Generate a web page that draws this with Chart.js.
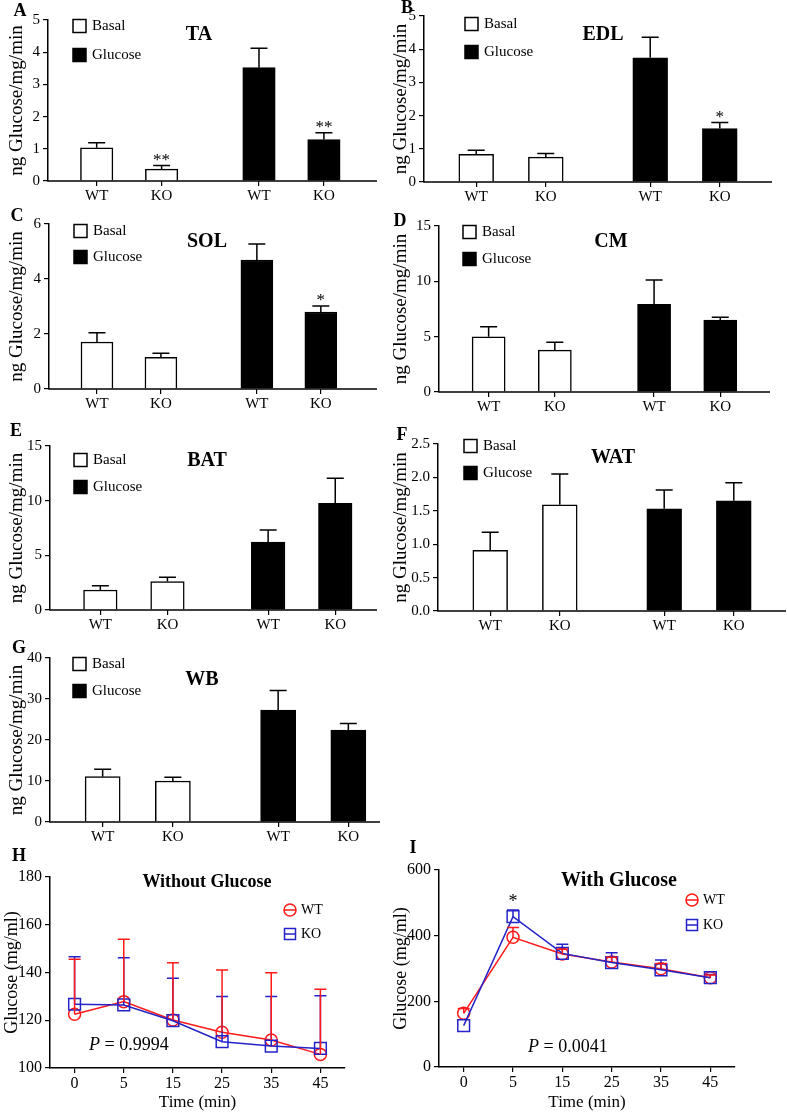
<!DOCTYPE html>
<html><head><meta charset="utf-8">
<script src="https://cdn.jsdelivr.net/npm/chart.js@4.4.1/dist/chart.umd.min.js"></script>
<style>
html,body{margin:0;padding:0;background:#fff;}
#wrap{position:relative;width:787px;height:1114px;overflow:hidden;background:#fff;}
canvas{position:absolute;}
</style></head>
<body><div id="wrap"></div>
<script>
// ---------------- DATA ----------------
const groups = ['WT', 'KO', 'WT', 'KO'];
const conditions = ['Basal', 'Glucose'];

const taBasal = [1.03, 0.37], taBasalErr = [0.16, 0.11];
const taGlucose = [3.52, 1.29], taGlucoseErr = [0.60, 0.21];
const taStars = ['', '**', '', '**'];
const taTicks = [0, 1, 2, 3, 4, 5];

const edlBasal = [0.83, 0.75], edlBasalErr = [0.13, 0.11];
const edlGlucose = [3.74, 1.61], edlGlucoseErr = [0.62, 0.18];
const edlStars = ['', '', '', '*'];
const edlTicks = [0, 1, 2, 3, 4, 5];

const solBasal = [1.71, 1.15], solBasalErr = [0.34, 0.15];
const solGlucose = [4.69, 2.80], solGlucoseErr = [0.58, 0.22];
const solStars = ['', '', '', '*'];
const solTicks = [0, 2, 4, 6];

const cmBasal = [4.99, 3.79], cmBasalErr = [0.91, 0.70];
const cmGlucose = [7.92, 6.50], cmGlucoseErr = [2.20, 0.25];
const cmStars = ['', '', '', ''];
const cmTicks = [0, 5, 10, 15];

const batBasal = [1.83, 2.60], batBasalErr = [0.39, 0.39];
const batGlucose = [6.21, 9.76], batGlucoseErr = [1.10, 2.29];
const batStars = ['', '', '', ''];
const batTicks = [0, 5, 10, 15];

const watBasal = [0.91, 1.59], watBasalErr = [0.27, 0.46];
const watGlucose = [1.53, 1.65], watGlucoseErr = [0.28, 0.27];
const watStars = ['', '', '', ''];
const watTicks = [0, 0.5, 1.0, 1.5, 2.0, 2.5];

const wbBasal = [11.05, 10.0], wbBasalErr = [1.8, 0.9];
const wbGlucose = [27.3, 22.4], wbGlucoseErr = [4.8, 1.6];
const wbStars = ['', '', '', ''];
const wbTicks = [0, 10, 20, 30, 40];

const timeLabels = ['0', '5', '15', '25', '35', '45'];
const seriesNames = ['WT', 'KO'];

const hWT = [122.5, 127.8, 120.1, 115.0, 111.7, 105.7];
const hWTErr = [23.0, 26.1, 24.0, 26.0, 28.2, 27.3];
const hKO = [126.7, 126.4, 119.8, 111.0, 109.2, 108.2];
const hKOErr = [19.9, 19.8, 17.8, 18.9, 20.7, 22.1];
const hTicks = [100, 120, 140, 160, 180];
const hStars = ['', '', '', '', '', ''];

const iWT = [163.5, 395, 344, 320, 299, 272];
const iWTErr = [15, 30, 15, 14, 16, 8];
const iKO = [126, 458, 346, 318, 296, 272];
const iKOErr = [0, 20, 28, 30, 30, 10];
const iTicks = [0, 200, 400, 600];
const iStars = ['', '*', '', '', '', ''];

// ---------------- STYLE / LAYOUT ----------------
const FONT = "'Liberation Serif','Times New Roman',serif";
const RED = 'rgb(255,25,25)';
const BLUE = 'rgb(35,35,200)';
const SLOTS = [1, 3, 6, 8];   // slot indices of the 4 groups on a 10-slot category axis
const NSLOT = 10;

const barPanels = [
  {letter:'A', name:'TA',  b:taBasal,  be:taBasalErr,  g:taGlucose,  ge:taGlucoseErr,  stars:taStars,  ticks:taTicks,  dec:0,
   cx:0,   cy:0,   cw:410, axisX:48,  topY:20,  axisY:181, slot:32.46, axisEnd:377, titleX:17.5, letterXY:[20,11],  nameXY:[199,35], legX:73,  legY:[26,55]},
  {letter:'B', name:'EDL', b:edlBasal, be:edlBasalErr, g:edlGlucose, ge:edlGlucoseErr, stars:edlStars, ticks:edlTicks, dec:0,
   cx:390, cy:0,   cw:397, axisX:424, topY:16,  axisY:182, slot:34.8,  axisEnd:772, titleX:399,  letterXY:[407,8],  nameXY:[603,35], legX:465, legY:[24,52]},
  {letter:'C', name:'SOL', b:solBasal, be:solBasalErr, g:solGlucose, ge:solGlucoseErr, stars:solStars, ticks:solTicks, dec:0,
   cx:0,   cy:205, cw:410, axisX:49,  topY:224, axisY:389, slot:31.98, axisEnd:377, titleX:17,   letterXY:[17,216], nameXY:[207,242], legX:74, legY:[231,257]},
  {letter:'D', name:'CM',  b:cmBasal,  be:cmBasalErr,  g:cmGlucose,  ge:cmGlucoseErr,  stars:cmStars,  ticks:cmTicks,  dec:0,
   cx:390, cy:205, cw:397, axisX:439, topY:226, axisY:392, slot:33.09, axisEnd:770, titleX:401,  letterXY:[400,221], nameXY:[611,242], legX:463, legY:[232,259]},
  {letter:'E', name:'BAT', b:batBasal, be:batBasalErr, g:batGlucose, ge:batGlucoseErr, stars:batStars, ticks:batTicks, dec:0,
   cx:0,   cy:418, cw:410, axisX:50,  topY:446, axisY:610, slot:33.56, axisEnd:377, titleX:17,   letterXY:[16,431], nameXY:[207,461], legX:74, legY:[460,487]},
  {letter:'F', name:'WAT', b:watBasal, be:watBasalErr, g:watGlucose, ge:watGlucoseErr, stars:watStars, ticks:watTicks, dec:1,
   cx:390, cy:418, cw:397, axisX:438, topY:444, axisY:611, slot:34.8,  axisEnd:786, titleX:400,  letterXY:[402,435], nameXY:[613,458], legX:464, legY:[446,473]},
  {letter:'G', name:'WB',  b:wbBasal,  be:wbBasalErr,  g:wbGlucose,  ge:wbGlucoseErr,  stars:wbStars,  ticks:wbTicks,  dec:0,
   cx:0,   cy:636, cw:410, axisX:50,  topY:658, axisY:822, slot:35.1,  axisEnd:380, titleX:17,   letterXY:[19,648], nameXY:[202,680], legX:73, legY:[664,691]}
];

const linePanels = [
  {letter:'H', title:'Without Glucose', titleSize:18, wt:hWT, wtE:hWTErr, ko:hKO, koE:hKOErr, ticks:hTicks, stars:hStars, p:'0.9994',
   cx:0, cy:840, cw:390, ch:274, axisX:50, topY:877, axisY:1068, right:345, titleX:12, xTitleY:1103,
   letterXY:[19,856], titleXY:[207,882], legX:290, legY:[910,934], pXY:[89,1045]},
  {letter:'I', title:'With Glucose', titleSize:20, wt:iWT, wtE:iWTErr, ko:iKO, koE:iKOErr, ticks:iTicks, stars:iStars, p:'0.0041',
   cx:390, cy:840, cw:397, ch:274, axisX:439, topY:870, axisY:1067, right:735, titleX:400, xTitleY:1103,
   letterXY:[413,848], titleXY:[619,881], legX:692, legY:[900,925], pXY:[528,1047]}
];

// ---------------- HELPERS ----------------
const wrap = document.getElementById('wrap');
function mkCanvas(x, y, w, h) {
  const c = document.createElement('canvas');
  c.width = w; c.height = h;
  c.style.left = x + 'px'; c.style.top = y + 'px';
  c.style.width = w + 'px'; c.style.height = h + 'px';
  wrap.appendChild(c);
  return c;
}
function txt(ctx, s, x, y, font, align, base, color) {
  ctx.save();
  ctx.font = font; ctx.textAlign = align || 'left'; ctx.textBaseline = base || 'middle';
  ctx.fillStyle = color || '#000';
  ctx.fillText(s, x, y);
  ctx.restore();
}
const errPlugin = {
  id: 'errbars',
  afterDatasetsDraw(chart) {
    const ctx = chart.ctx, ys = chart.scales.y;
    chart.data.datasets.forEach((ds, di) => {
      if (!ds.errs) return;
      const meta = chart.getDatasetMeta(di);
      meta.data.forEach((el, i) => {
        const v = ds.data[i], e = ds.errs[i];
        if (v == null || e == null || e <= 0) return;
        const x = el.x, y0 = ys.getPixelForValue(v), y1 = ys.getPixelForValue(v + e);
        const cap = ds.capWidth / 2;
        ctx.save();
        ctx.strokeStyle = ds.errColor; ctx.lineWidth = 1.5;
        ctx.beginPath();
        ctx.moveTo(x, y0); ctx.lineTo(x, y1);
        ctx.moveTo(x - cap, y1); ctx.lineTo(x + cap, y1);
        ctx.stroke();
        ctx.restore();
      });
    });
  }
};

// ---------------- BAR PANELS ----------------
const Y_TITLE = 19;
barPanels.forEach(p => {
  const ch = p.axisY - p.cy + 30;
  const cv = mkCanvas(p.cx, p.cy, p.cw, ch);
  const labels = Array(NSLOT).fill('');
  SLOTS.forEach((s, i) => labels[s] = groups[i]);
  const bData = Array(NSLOT).fill(null), bErr = Array(NSLOT).fill(null);
  const gData = Array(NSLOT).fill(null), gErr = Array(NSLOT).fill(null);
  const starAt = Array(NSLOT).fill('');
  [0, 1].forEach(i => { bData[SLOTS[i]] = p.b[i]; bErr[SLOTS[i]] = p.be[i]; });
  [0, 1].forEach(i => { gData[SLOTS[i + 2]] = p.g[i]; gErr[SLOTS[i + 2]] = p.ge[i]; });
  SLOTS.forEach((s, i) => starAt[s] = p.stars[i]);
  const lh = Y_TITLE * 1.2;
  const padLeft = Math.max(0, p.titleX - p.cx - lh / 2);
  const yW = p.axisX - p.cx - padLeft;
  const areaRight = p.axisX + NSLOT * p.slot;
  const padRight = Math.max(0, p.cx + p.cw - areaRight);
  const padTop = p.topY - p.cy;
  const xH = p.cy + ch - p.axisY;
  const ox = p.cx, oy = p.cy;

  const annot = {
    id: 'annot',
    afterDraw(chart) {
      const ctx = chart.ctx, xs = chart.scales.x, ys = chart.scales.y, a = chart.chartArea;
      // baseline
      ctx.save(); ctx.strokeStyle = '#000'; ctx.lineWidth = 1.5;
      ctx.beginPath(); ctx.moveTo(a.left - 0.75, a.bottom); ctx.lineTo(p.axisEnd - ox, a.bottom); ctx.stroke(); ctx.restore();
      // letter and title
      txt(ctx, p.letter, p.letterXY[0] - ox, p.letterXY[1] - oy, 'bold 18px ' + FONT, 'center', 'middle');
      txt(ctx, p.name, p.nameXY[0] - ox, p.nameXY[1] - oy, 'bold 20px ' + FONT, 'center', 'middle');
      // legend
      chart.data.datasets.forEach((ds, i) => {
        const bx = p.legX - ox, by = p.legY[i] - oy;
        ctx.save();
        ctx.fillStyle = ds.backgroundColor; ctx.strokeStyle = '#000'; ctx.lineWidth = 1.5;
        ctx.fillRect(bx, by - 6.5, 13, 13); ctx.strokeRect(bx, by - 6.5, 13, 13);
        ctx.restore();
        txt(ctx, ds.label, bx + 19, by, '15px ' + FONT, 'left', 'middle');
      });
      // stars
      starAt.forEach((s, i) => {
        if (!s) return;
        const v = bData[i] != null ? bData[i] + bErr[i] : gData[i] + gErr[i];
        const y = ys.getPixelForValue(v);
        txt(ctx, s, xs.getPixelForValue(i), y - 1, '17px ' + FONT, 'center', 'alphabetic');
      });
    }
  };

  new Chart(cv, {
    type: 'bar',
    data: {
      labels: labels,
      datasets: [
        {label: conditions[0], data: bData, errs: bErr, backgroundColor: '#ffffff', borderColor: '#000', borderWidth: 1.5, errColor: '#000', capWidth: 17},
        {label: conditions[1], data: gData, errs: gErr, backgroundColor: '#000000', borderColor: '#000', borderWidth: 1.5, errColor: '#000', capWidth: 17}
      ]
    },
    options: {
      responsive: false, animation: false, events: [],
      layout: {padding: {left: padLeft, right: padRight, top: padTop, bottom: 0}},
      datasets: {bar: {grouped: false, categoryPercentage: 1, barPercentage: 1}},
      plugins: {legend: {display: false}, tooltip: {enabled: false}},
      scales: {
        x: {
          type: 'category', offset: true,
          grid: {display: true, drawOnChartArea: false, drawTicks: true, tickLength: 5, offset: false, color: '#000', lineWidth: 1.2},
          border: {display: false},
          ticks: {color: '#000', font: {family: FONT, size: 15}, padding: 1, autoSkip: false, maxRotation: 0},
          afterBuildTicks: s => { s.ticks = s.ticks.filter(t => labels[t.value] !== ''); },
          afterFit: s => { s.height = xH; }
        },
        y: {
          min: p.ticks[0], max: p.ticks[p.ticks.length - 1],
          afterBuildTicks: s => { s.ticks = p.ticks.map(v => ({value: v})); },
          ticks: {color: '#000', font: {family: FONT, size: 15}, padding: 3, callback: v => Number(v).toFixed(p.dec)},
          grid: {display: true, drawOnChartArea: false, drawTicks: true, tickLength: 5, color: '#000', lineWidth: 1.2},
          border: {display: true, color: '#000', width: 1.5},
          title: {display: true, text: 'ng Glucose/mg/min', color: '#000', font: {family: FONT, size: Y_TITLE}, padding: 0},
          afterFit: s => { s.width = yW; }
        }
      }
    },
    plugins: [errPlugin, annot]
  });
});

// ---------------- LINE PANELS ----------------
linePanels.forEach(p => {
  const cv = mkCanvas(p.cx, p.cy, p.cw, p.ch);
  const yTitleSize = 18, xTitleSize = 17;
  const padLeft = Math.max(0, p.titleX - p.cx - yTitleSize * 1.2 / 2);
  const yW = p.axisX - p.cx - padLeft;
  const padRight = Math.max(0, p.cx + p.cw - p.right);
  const padTop = p.topY - p.cy;
  const padBottom = Math.max(0, p.cy + p.ch - (p.xTitleY + xTitleSize * 1.2 / 2));
  const xH = p.cy + p.ch - padBottom - p.axisY;
  const ox = p.cx, oy = p.cy;

  const annot = {
    id: 'annotLine',
    afterDraw(chart) {
      const ctx = chart.ctx, xs = chart.scales.x, ys = chart.scales.y;
      txt(ctx, p.letter, p.letterXY[0] - ox, p.letterXY[1] - oy, 'bold 18px ' + FONT, 'center', 'middle');
      txt(ctx, p.title, p.titleXY[0] - ox, p.titleXY[1] - oy, 'bold ' + p.titleSize + 'px ' + FONT, 'center', 'middle');
      // legend (WT first, KO second)
      const legendOrder = [1, 0];
      legendOrder.forEach((di, row) => {
        const ds = chart.data.datasets[di];
        const mx = p.legX - ox, my = p.legY[row] - oy;
        ctx.save();
        ctx.strokeStyle = ds.borderColor; ctx.lineWidth = 1.5;
        ctx.beginPath();
        if (ds.pointStyle === 'circle') { ctx.arc(mx, my, 6, 0, Math.PI * 2); }
        else { ctx.rect(mx - 5.5, my - 5.5, 11, 11); }
        ctx.moveTo(mx - 6, my); ctx.lineTo(mx + 6, my);
        ctx.stroke();
        ctx.restore();
        txt(ctx, ds.label, mx + 11, my, '14px ' + FONT, 'left', 'middle');
      });
      // P value
      ctx.save();
      ctx.font = 'italic 18px ' + FONT; ctx.textBaseline = 'middle'; ctx.fillStyle = '#000';
      const px = p.pXY[0] - ox, py = p.pXY[1] - oy;
      ctx.fillText('P', px, py);
      const w = ctx.measureText('P').width;
      ctx.font = '18px ' + FONT;
      ctx.fillText(' = ' + p.p, px + w, py);
      ctx.restore();
      // stars
      p.stars.forEach((s, i) => {
        if (!s) return;
        const top = Math.max(p.wt[i] + p.wtE[i], p.ko[i] + p.koE[i]);
        txt(ctx, s, xs.getPixelForValue(i), ys.getPixelForValue(top) - 3, '18px ' + FONT, 'center', 'alphabetic');
      });
    }
  };

  new Chart(cv, {
    type: 'line',
    data: {
      labels: timeLabels,
      datasets: [
        {label: seriesNames[1], data: p.ko, errs: p.koE, borderColor: BLUE, backgroundColor: BLUE, borderWidth: 1.5,
         pointStyle: 'rect', pointRadius: 8.3, pointBorderWidth: 1.5, pointBorderColor: BLUE, pointBackgroundColor: 'rgba(0,0,0,0)',
         errColor: BLUE, capWidth: 12, order: 0, tension: 0},
        {label: seriesNames[0], data: p.wt, errs: p.wtE, borderColor: RED, backgroundColor: RED, borderWidth: 1.5,
         pointStyle: 'circle', pointRadius: 6, pointBorderWidth: 1.5, pointBorderColor: RED, pointBackgroundColor: 'rgba(0,0,0,0)',
         errColor: RED, capWidth: 12, order: 1, tension: 0}
      ]
    },
    options: {
      responsive: false, animation: false, events: [],
      layout: {padding: {left: padLeft, right: padRight, top: padTop, bottom: padBottom}},
      plugins: {legend: {display: false}, tooltip: {enabled: false}},
      scales: {
        x: {
          type: 'category', offset: true,
          grid: {display: true, drawOnChartArea: false, drawTicks: true, tickLength: 5, offset: false, color: '#000', lineWidth: 1.2},
          border: {display: true, color: '#000', width: 1.5},
          ticks: {color: '#000', font: {family: FONT, size: 16}, padding: 1, autoSkip: false, maxRotation: 0},
          title: {display: true, text: 'Time (min)', color: '#000', font: {family: FONT, size: xTitleSize}, padding: 0},
          afterFit: s => { s.height = xH; }
        },
        y: {
          min: p.ticks[0], max: p.ticks[p.ticks.length - 1],
          afterBuildTicks: s => { s.ticks = p.ticks.map(v => ({value: v})); },
          ticks: {color: '#000', font: {family: FONT, size: 16}, padding: 3},
          grid: {display: true, drawOnChartArea: false, drawTicks: true, tickLength: 5, color: '#000', lineWidth: 1.2},
          border: {display: true, color: '#000', width: 1.5},
          title: {display: true, text: 'Glucose (mg/ml)', color: '#000', font: {family: FONT, size: yTitleSize}, padding: 0},
          afterFit: s => { s.width = yW; }
        }
      }
    },
    plugins: [errPlugin, annot]
  });
});
</script>
</body></html>
